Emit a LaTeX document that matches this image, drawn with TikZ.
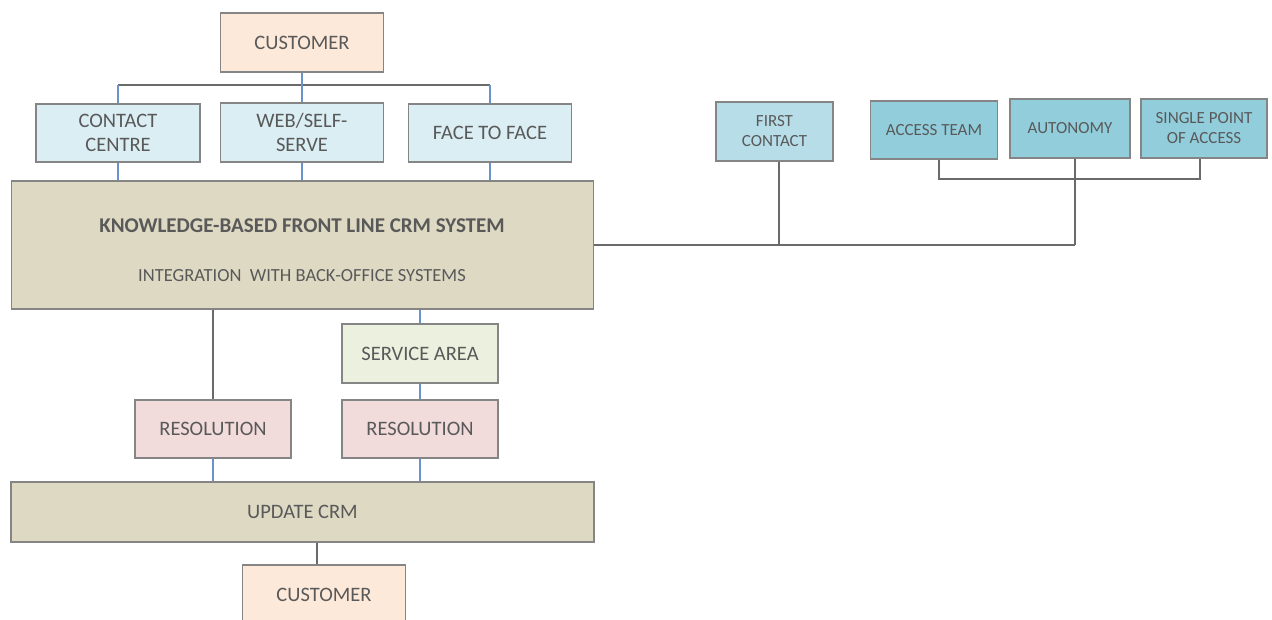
\documentclass[tikz,border=0pt]{standalone}
\usepackage{fontspec}
\setmainfont{Carlito}
\definecolor{txt}{HTML}{595959}
\definecolor{edge}{HTML}{858585}
\definecolor{wire}{HTML}{6A6A6A}
\definecolor{bluewire}{HTML}{6A93CC}
\definecolor{peach}{HTML}{FDE9D9}
\definecolor{paleblue}{HTML}{DAEEF3}
\definecolor{tan}{HTML}{DDD9C3}
\definecolor{midblue}{HTML}{B7DEE8}
\definecolor{deepblue}{HTML}{92CDDC}
\definecolor{palegreen}{HTML}{EBF1DE}
\definecolor{rose}{HTML}{F2DCDB}
\begin{document}
\begin{tikzpicture}[x=1pt,y=-1pt,
  box/.style={draw=edge, line width=1.4pt, text=txt, align=center, inner sep=0pt,
    font=\fontsize{20.5}{24}\selectfont},
  smallbox/.style={box, font=\fontsize{17}{20}\selectfont},
  label/.style={text=txt, inner sep=0pt},
  gline/.style={draw=wire, line width=1.5pt},
  bline/.style={draw=bluewire, line width=1.8pt}]
\useasboundingbox (0,0) rectangle (1272,619);

% left column: channels into the CRM system
\node[box, fill=peach, minimum width=163, minimum height=59] (cust1) at (302,42.5) {CUSTOMER};
\node[box, fill=paleblue, minimum width=164, minimum height=58] (cc) at (118,133) {CONTACT\\CENTRE};
\node[box, fill=paleblue, minimum width=163, minimum height=59] (web) at (302,132.5) {WEB/SELF-\\SERVE};
\node[box, fill=paleblue, minimum width=163, minimum height=58] (face) at (490,133) {FACE TO FACE};
\node[box, fill=tan, minimum width=582, minimum height=128] (crm) at (302.5,245) {};
\node[label, font=\fontsize{21}{24}\selectfont\bfseries] (crmtitle) at (302,226) {KNOWLEDGE-BASED FRONT LINE CRM SYSTEM};
\node[label, font=\fontsize{18.5}{22}\selectfont] (crmsub) at (302,276) {INTEGRATION\ \ WITH BACK-OFFICE SYSTEMS};

% right side: front-line principles
\node[smallbox, fill=midblue, minimum width=117, minimum height=59] (first) at (774.5,131.5) {FIRST\\CONTACT};
\node[smallbox, fill=deepblue, minimum width=127, minimum height=58] (access) at (934,130) {ACCESS TEAM};
\node[smallbox, fill=deepblue, minimum width=120, minimum height=59] (auton) at (1070,128.5) {AUTONOMY};
\node[smallbox, fill=deepblue, minimum width=126, minimum height=59] (single) at (1204,128.5) {SINGLE POINT\\OF ACCESS};

% lower part: resolution and update
\node[box, fill=palegreen, minimum width=156, minimum height=59] (svc) at (420,353.5) {SERVICE AREA};
\node[box, fill=rose, minimum width=156, minimum height=58] (res1) at (213,429) {RESOLUTION};
\node[box, fill=rose, minimum width=156, minimum height=58] (res2) at (420,429) {RESOLUTION};
\node[box, fill=tan, minimum width=583, minimum height=60] (upd) at (302.5,512) {UPDATE CRM};
\node[box, fill=peach, minimum width=163, minimum height=59] (cust2) at (324,594.5) {CUSTOMER};

% connector routing points
\coordinate (bus) at (302,85);
\coordinate (fc) at (779,245);
\coordinate (au) at (1075,245);
\coordinate (brkl) at (939,179);
\coordinate (brkr) at (1200,179);
\coordinate (dn) at (317,560);

% channels
\draw[gline] (cc.north |- bus) -- (face.north |- bus);
\draw[bline] (cust1.south) -- (bus);
\draw[bline] (cc.north |- bus) -- (cc.north);
\draw[bline] (bus) -- (web.north);
\draw[bline] (face.north |- bus) -- (face.north);
\draw[bline] (cc.south) -- (cc.south |- crm.north);
\draw[bline] (web.south) -- (web.south |- crm.north);
\draw[bline] (face.south) -- (face.south |- crm.north);

% principles
\draw[gline] (crm.east) -- (au);
\draw[gline] (fc |- first.south) -- (fc);
\draw[gline] (au |- auton.south) -- (au);
\draw[gline] (brkl |- access.south) -- (brkl) -- (brkr) -- (brkr |- single.south);

% resolution paths
\draw[gline] (res1.north |- crm.south) -- (res1.north);
\draw[bline] (svc.north |- crm.south) -- (svc.north);
\draw[bline] (svc.south) -- (res2.north);
\draw[bline] (res1.south) -- (res1.south |- upd.north);
\draw[bline] (res2.south) -- (res2.south |- upd.north);
\draw[gline] (dn |- upd.south) -- (dn |- cust2.north);
\end{tikzpicture}
\end{document}
